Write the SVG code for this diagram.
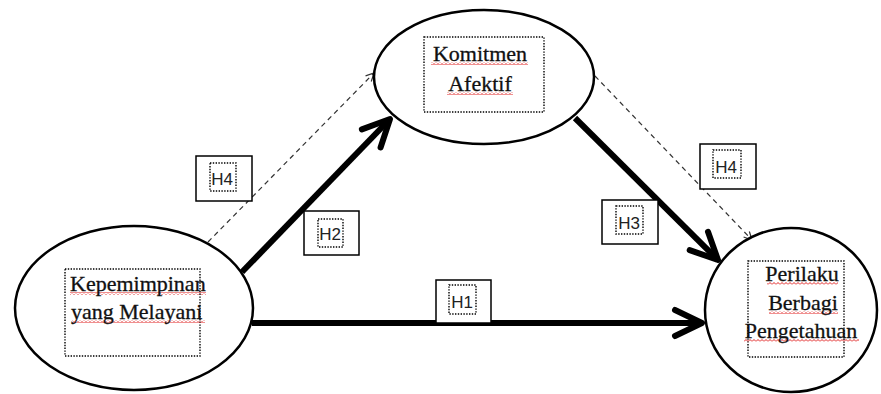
<svg xmlns="http://www.w3.org/2000/svg" width="881" height="394" viewBox="0 0 881 394">
<style>
.node ellipse{fill:#fff;stroke:#000;stroke-width:2.5}
.dot{fill:none;stroke:#000;stroke-width:1.4;stroke-dasharray:1.4 1.4}
.nt{font-family:"Liberation Serif","Times New Roman",serif;font-size:22px;fill:#111;stroke:#111;stroke-width:0.3}
.lbl rect.b{fill:#fff;stroke:#000;stroke-width:1.5}
.lt{font-family:"Liberation Sans",Arial,sans-serif;font-size:17px;fill:#222;text-anchor:middle}
.thick{stroke:#000;stroke-width:6;fill:none}
.dash{stroke:#333;stroke-width:1.2;fill:none;stroke-dasharray:5 4}
.sq{fill:url(#squig)}
</style>
<defs>
<pattern id="squig" width="4" height="3" patternUnits="userSpaceOnUse">
<path d="M0 2.5 L2 0.5 L4 2.5" stroke="#e02020" stroke-width="1" fill="none"/>
</pattern>
<marker id="headThick" markerUnits="userSpaceOnUse" viewBox="-34 -20 40 40" markerWidth="40" markerHeight="40" refX="0" refY="0" orient="auto">
<path d="M-27 -13 L0 0 L-27 13" fill="none" stroke="#000" stroke-width="6" stroke-linecap="round" stroke-linejoin="round"/>
</marker>
<marker id="headThin" markerUnits="userSpaceOnUse" viewBox="-12 -8 14 16" markerWidth="14" markerHeight="16" refX="0" refY="0" orient="auto">
<path d="M-8 -4 L0 0 L-8 4" fill="none" stroke="#333" stroke-width="1.2"/>
</marker>
</defs>
<rect width="881" height="394" fill="#fff"/>
<g id="connectors">
<line class="thick" x1="252" y1="323" x2="702" y2="323" marker-end="url(#headThick)"/>
<line class="thick" x1="242" y1="272" x2="390" y2="119" marker-end="url(#headThick)"/>
<line class="thick" x1="575" y1="118" x2="718" y2="260" marker-end="url(#headThick)"/>
<line class="dash" x1="208" y1="242" x2="374" y2="73" marker-end="url(#headThin)"/>
<line class="dash" x1="595" y1="76" x2="752" y2="240" marker-end="url(#headThin)"/>
</g>
<g id="node-kepemimpinan" class="node">
<ellipse cx="134" cy="308" rx="119" ry="82"/>
<rect class="dot" x="65" y="269" width="135" height="87"/>
<rect class="sq" x="70" y="292" width="136" height="3"/>
<rect class="sq" x="72" y="320" width="133" height="3"/>
<text class="nt" x="70" y="291">Kepemimpinan</text>
<text class="nt" x="71" y="319">yang Melayani</text>
</g>
<g id="node-komitmen" class="node">
<ellipse cx="484" cy="77" rx="110" ry="67"/>
<rect class="dot" x="424" y="37" width="120" height="75"/>
<rect class="sq" x="431" y="62" width="97" height="3"/>
<rect class="sq" x="447" y="92" width="66" height="3"/>
<text class="nt" x="480" y="61" text-anchor="middle">Komitmen</text>
<text class="nt" x="480" y="91" text-anchor="middle">Afektif</text>
</g>
<g id="node-perilaku" class="node">
<ellipse cx="791" cy="310" rx="86" ry="82"/>
<rect class="dot" x="748" y="261" width="96" height="96"/>
<rect class="sq" x="767" y="282" width="71" height="3"/>
<rect class="sq" x="769" y="311" width="69" height="3"/>
<rect class="sq" x="744" y="339" width="115" height="3"/>
<text class="nt" x="802" y="281" text-anchor="middle">Perilaku</text>
<text class="nt" x="803" y="310" text-anchor="middle">Berbagi</text>
<text class="nt" x="801" y="338" text-anchor="middle">Pengetahuan</text>
</g>
<g id="label-h4-left" class="lbl">
<rect class="b" x="196" y="156" width="56" height="45"/>
<rect class="dot" x="210" y="163" width="26" height="28"/>
<text class="lt" x="222" y="185">H4</text>
</g>
<g id="label-h2" class="lbl">
<rect class="b" x="304" y="211" width="55" height="44"/>
<rect class="dot" x="318" y="219" width="25" height="28"/>
<text class="lt" x="330" y="240">H2</text>
</g>
<g id="label-h4-right" class="lbl">
<rect class="b" x="700" y="144" width="56" height="45"/>
<rect class="dot" x="713" y="150" width="28" height="28"/>
<text class="lt" x="726" y="173">H4</text>
</g>
<g id="label-h3" class="lbl">
<rect class="b" x="602" y="200" width="56" height="44"/>
<rect class="dot" x="616" y="206" width="27" height="28"/>
<text class="lt" x="629" y="229">H3</text>
</g>
<g id="label-h1" class="lbl">
<rect class="b" x="436" y="280" width="55" height="43"/>
<rect class="dot" x="449" y="285" width="27" height="29"/>
<text class="lt" x="462" y="308">H1</text>
</g>
</svg>
